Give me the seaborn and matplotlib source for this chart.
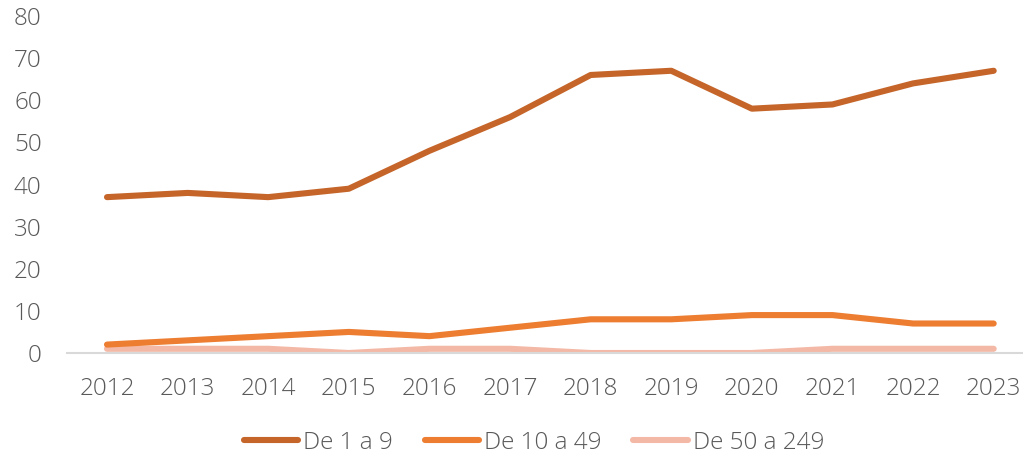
import numpy as np
import pandas as pd
import matplotlib
matplotlib.use("Agg")
import matplotlib.pyplot as plt
import seaborn as sns

years = ["2012", "2013", "2014", "2015", "2016", "2017", "2018", "2019", "2020", "2021", "2022", "2023"]
de_1_9 = [37, 38, 37, 39, 48, 56, 66, 67, 58, 59, 64, 67]
de_10_49 = [2, 3, 4, 5, 4, 6, 8, 8, 9, 9, 7, 7]
de_50_249 = [1, 1, 1, 0, 1, 1, 0, 0, 0, 1, 1, 1]
series_names = ["De 1 a 9", "De 10 a 49", "De 50 a 249"]
colors = ["#C5652A", "#ED7D31", "#F4B9A6"]

df = pd.DataFrame({
    "year": years * 3,
    "value": de_1_9 + de_10_49 + de_50_249,
    "serie": [series_names[0]] * 12 + [series_names[1]] * 12 + [series_names[2]] * 12,
})

sns.set_style("white")
plt.rcParams['font.family'] = ['Open Sans', 'DejaVu Sans']
text_color = "#595959"

fig = plt.figure(figsize=(10.23, 4.59), dpi=100)
ax = fig.add_axes([66.7 / 1023, 106 / 459, 967.3 / 1023, 337 / 459])

sns.lineplot(data=df, x="year", y="value", hue="serie", hue_order=series_names[::-1],
             palette=dict(zip(series_names, colors)), linewidth=4.4, sort=False,
             solid_capstyle="round", ax=ax, legend=False)

ax.set_xlim(-0.5, 11.5)
ax.set_ylim(0, 80)
ax.set_yticks(range(0, 81, 10))
ax.set_xlabel("")
ax.set_ylabel("")
for s in ["top", "right", "left"]:
    ax.spines[s].set_visible(False)
ax.spines["bottom"].set_color("#D9D9D9")
ax.spines["bottom"].set_linewidth(1.5)
ax.tick_params(axis="both", length=0, labelsize=17.5, labelcolor=text_color)
ax.tick_params(axis="y", pad=18)
ax.tick_params(axis="x", pad=17)
for lab in ax.get_xticklabels() + ax.get_yticklabels():
    lab.set_fontweight("light")

handles = [plt.Line2D([], [], color=c, linewidth=4.4, solid_capstyle="round") for c in colors]
leg = fig.legend(handles, series_names, loc="center", bbox_to_anchor=(534 / 1023, 1 - 443 / 459),
                 ncol=3, frameon=False, fontsize=17.5, handlelength=2.25,
                 handletextpad=0.2, columnspacing=1.3)
for t in leg.get_texts():
    t.set_color(text_color)
    t.set_fontweight("light")

fig.savefig("out.png", dpi=100)
